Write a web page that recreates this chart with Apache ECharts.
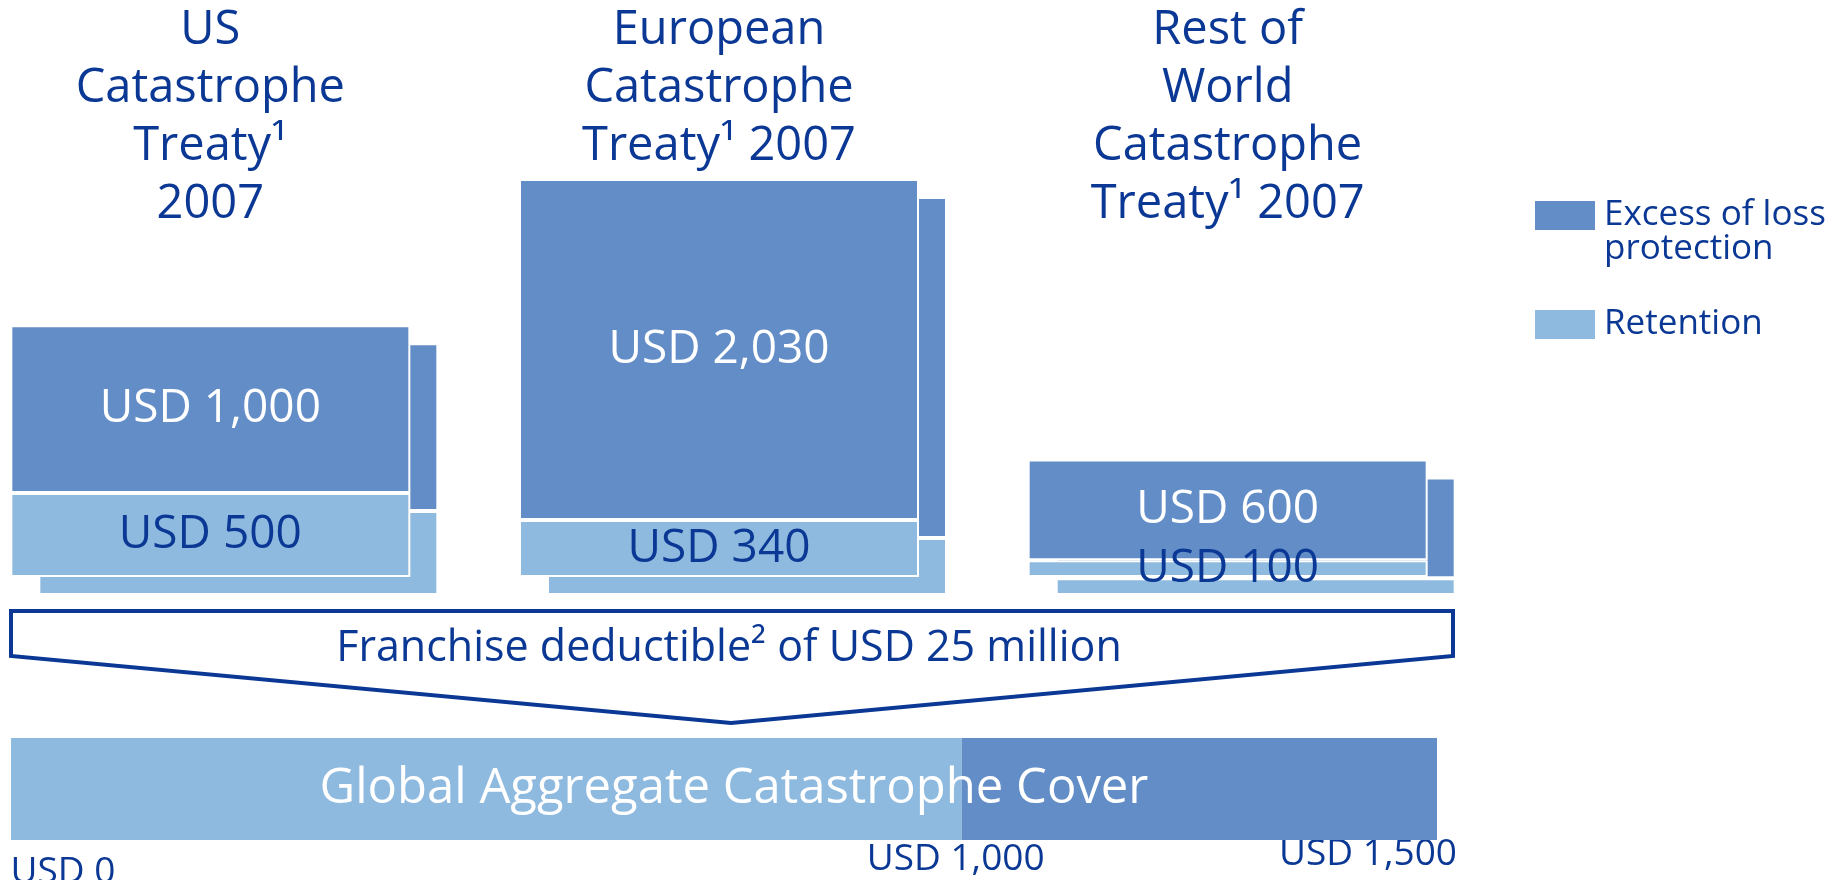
<!DOCTYPE html>
<html>
<head>
<meta charset="utf-8">
<title>Catastrophe cover</title>
<script src="https://cdn.jsdelivr.net/npm/echarts@6/dist/echarts.min.js"></script>
<style>
  html, body { margin: 0; padding: 0; background: #fff; }
  #main { width: 1845px; height: 880px; }
</style>
</head>
<body>
<div id="main"></div>
<script>
// treaties (top boxes)
var treaties = ['US\nCatastrophe\nTreaty¹\n2007', 'European\nCatastrophe\nTreaty¹ 2007', 'Rest of\nWorld\nCatastrophe\nTreaty¹ 2007'];
var retention = [500, 340, 100];
var excess = [1000, 2030, 600];

// global aggregate cover (bottom bar)
var coverName = ['Global Aggregate Catastrophe Cover'];
var coverRetention = [1000];
var coverExcess = [500];
var coverTicks = [0, 1000, 1500];

var DARK = '#0a3894';
var C_EXC = '#638dc7';
var C_RET = '#8fbadf';
var FONT = 'Open Sans';

function usd(v) { return 'USD ' + v.toLocaleString('en-US'); }

var myChart = echarts.init(document.getElementById('main'));

var option = {
    backgroundColor: '#fff',
    textStyle: { fontFamily: FONT },
    animation: false,
    legend: [
        {
            data: ['Excess of loss protection'],
            left: 1533, top: 164, padding: 0,
            icon: 'rect', itemWidth: 62, itemHeight: 31,
            selectedMode: false,
            // empty first line so the first real line sits level with the swatch
            formatter: function () { return ' \nExcess of loss\nprotection'; },
            textStyle: { fontFamily: FONT, fontSize: 35, lineHeight: 34, color: DARK, padding: [0, 0, 0, 3] }
        },
        {
            data: ['Retention'],
            left: 1533, top: 307, padding: 0,
            icon: 'rect', itemWidth: 62, itemHeight: 31,
            selectedMode: false,
            textStyle: { fontFamily: FONT, fontSize: 35, color: DARK, padding: [0, 0, 0, 3] }
        }
    ],
    grid: [
        { left: -44, width: 1526, top: 174, height: 403, outerBoundsMode: 'none' },   // front boxes
        { left: -16, width: 1526, top: 192, height: 403, outerBoundsMode: 'none' },   // shadow boxes
        { left: 11, width: 1426, top: 738, height: 102, outerBoundsMode: 'none' }     // global cover
    ],
    xAxis: [
        {
            gridIndex: 0, type: 'category', position: 'top', data: treaties,
            axisLine: { show: false }, axisTick: { show: false },
            axisLabel: {
                interval: 0, margin: 172, verticalAlign: 'top',
                fontFamily: FONT, fontSize: 47, lineHeight: 58, color: DARK
            }
        },
        { gridIndex: 1, type: 'category', data: treaties, show: false },
        {
            gridIndex: 2, type: 'value', min: 0, max: 1500, interval: 500,
            axisLine: { show: false }, axisTick: { show: false }, splitLine: { show: false },
            axisLabel: {
                margin: -4, showMinLabel: true, showMaxLabel: true,
                fontFamily: FONT, fontSize: 37, color: DARK,
                formatter: function (v) {
                    if (coverTicks.indexOf(v) < 0) return '';
                    var s = v === 0 ? 'l' : (v === 1500 ? 'r' : 'm');
                    return '{' + s + '|' + usd(v) + '}';
                },
                rich: {
                    l: { fontFamily: FONT, fontSize: 37, color: DARK, padding: [18, 0, 0, 104] },
                    m: { fontFamily: FONT, fontSize: 37, color: DARK, padding: [5, 12, 0, 0] },
                    r: { fontFamily: FONT, fontSize: 37, color: DARK, padding: [0, 138, 0, 0] }
                }
            }
        }
    ],
    yAxis: [
        { gridIndex: 0, type: 'value', min: 0, max: 2400, show: false },
        { gridIndex: 1, type: 'value', min: 0, max: 2400, show: false },
        { gridIndex: 2, type: 'category', data: coverName, show: false }
    ],
    series: [
        // shadow copies behind the boxes
        {
            name: 'shadowRet', type: 'bar', xAxisIndex: 1, yAxisIndex: 1, stack: 'back',
            data: retention, barWidth: 400, z: 1, silent: true,
            itemStyle: { color: C_RET, borderColor: '#fff', borderWidth: 2 }
        },
        {
            name: 'shadowExc', type: 'bar', xAxisIndex: 1, yAxisIndex: 1, stack: 'back',
            data: excess, barWidth: 400, z: 1, silent: true,
            itemStyle: { color: C_EXC, borderColor: '#fff', borderWidth: 2 }
        },
        // front boxes
        {
            name: 'Retention', type: 'bar', xAxisIndex: 0, yAxisIndex: 0, stack: 'front',
            data: retention, barWidth: 400, z: 3,
            itemStyle: { color: C_RET, borderColor: '#fff', borderWidth: 2 },
            label: {
                show: true, position: 'inside', color: DARK, fontFamily: FONT, fontSize: 46,
                formatter: function (p) { return usd(p.value); }
            }
        },
        {
            name: 'Excess of loss protection', type: 'bar', xAxisIndex: 0, yAxisIndex: 0, stack: 'front',
            data: excess, barWidth: 400, z: 3,
            itemStyle: { color: C_EXC, borderColor: '#fff', borderWidth: 2 },
            label: {
                show: true, position: 'inside', color: '#fff', fontFamily: FONT, fontSize: 46,
                formatter: function (p) { return usd(p.value); }
            }
        },
        // global aggregate cover
        {
            name: 'Retention', type: 'bar', xAxisIndex: 2, yAxisIndex: 2, stack: 'cover',
            data: coverRetention, barWidth: '100%', barGap: '-100%',
            itemStyle: { color: C_RET }
        },
        {
            name: 'Excess of loss protection', type: 'bar', xAxisIndex: 2, yAxisIndex: 2, stack: 'cover',
            data: coverExcess, barWidth: '100%', barGap: '-100%',
            itemStyle: { color: C_EXC }
        },
        {
            name: 'cover', type: 'bar', xAxisIndex: 2, yAxisIndex: 2,
            data: [coverRetention[0] + coverExcess[0]], barWidth: '100%', barGap: '-100%',
            z: 4, silent: true,
            itemStyle: { color: 'rgba(0,0,0,0)' },
            label: {
                show: true, position: 'inside', offset: [10, 0], color: '#fff', fontFamily: FONT, fontSize: 49,
                formatter: '{b}'
            }
        }
    ],
    graphic: [
        {
            type: 'polygon', z: 10,
            shape: { points: [[11, 611], [1453, 611], [1453, 656], [731, 723], [11, 656]] },
            style: { fill: 'none', stroke: DARK, lineWidth: 4 }
        },
        {
            type: 'text', z: 10, x: 729, y: 649,
            style: {
                text: 'Franchise deductible² of USD 25 million',
                fill: DARK, font: '43px "Open Sans"', align: 'center', verticalAlign: 'middle'
            }
        }
    ]
};

myChart.setOption(option);
</script>
</body>
</html>
